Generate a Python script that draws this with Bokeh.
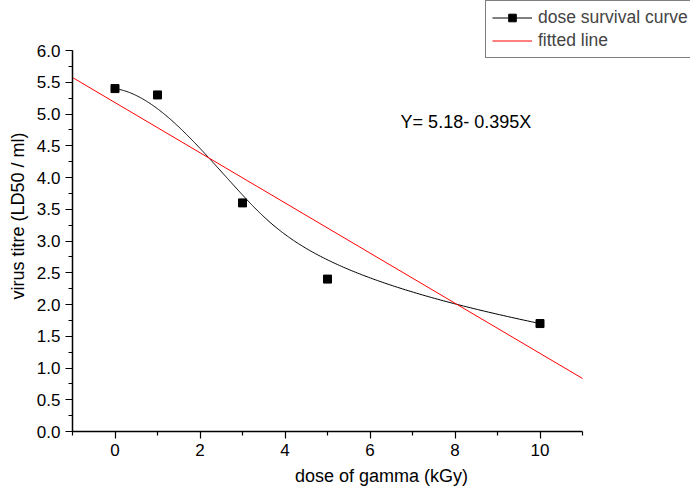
import numpy as np
from bokeh.plotting import figure
from bokeh.models import (FixedTicker, PrintfTickFormatter, Legend, LegendItem,
                          Range1d)
from bokeh.embed import file_html
from bokeh.resources import INLINE
from bokeh.core.properties import value

# ---- data ----
dose = [0, 1, 3, 5, 10]
titre = [5.4, 5.3, 3.6, 2.4, 1.7]
fit_x = [-1, 11]
fit_y = [5.575, 0.835]
equation = "Y= 5.18- 0.395X"
x_major = [0, 2, 4, 6, 8, 10]
x_minor = [-1, 1, 3, 5, 7, 9, 11]
y_major = [0.0, 0.5, 1.0, 1.5, 2.0, 2.5, 3.0, 3.5, 4.0, 4.5, 5.0, 5.5, 6.0]
y_minor = [i * 0.25 for i in range(25)]
x_bounds = (-1, 11)
y_bounds = (0, 6)
x_label = "dose of gamma (kGy)"
y_label = "virus titre (LD50 / ml)"
series_names = ["dose survival curve", "fitted line"]


# clamped cubic B-spline using the data points as control points
def bspline(cx, cy, k=3, n=300):
    cx = np.asarray(cx, float)
    cy = np.asarray(cy, float)
    m = len(cx)
    inner = np.linspace(0, 1, m - k + 1)[1:-1]
    t = np.concatenate([np.zeros(k + 1), inner, np.ones(k + 1)])
    u = np.linspace(0, 1, n)
    u[-1] = 1 - 1e-12

    def N(i, p, u):
        if p == 0:
            return ((t[i] <= u) & (u < t[i + 1])).astype(float)
        a = 0.0
        b = 0.0
        if t[i + p] != t[i]:
            a = (u - t[i]) / (t[i + p] - t[i]) * N(i, p - 1, u)
        if t[i + p + 1] != t[i + 1]:
            b = (t[i + p + 1] - u) / (t[i + p + 1] - t[i + 1]) * N(i + 1, p - 1, u)
        return a + b

    B = np.array([N(i, k, u) for i in range(m)])
    return B.T @ cx, B.T @ cy


sx, sy = bspline(dose, titre)

FONT = "Liberation Sans"

# axes span 510 x 381 px for the bounded range; frame extends to the page edges
FW, FH = 618, 431
px_x = 510 / (x_bounds[1] - x_bounds[0])
px_y = 381 / (y_bounds[1] - y_bounds[0])

p = figure(width=690, height=488, output_backend="svg", toolbar_location=None,
           x_range=Range1d(x_bounds[0], x_bounds[0] + FW / px_x),
           y_range=Range1d(y_bounds[0], y_bounds[0] + FH / px_y),
           min_border_left=72, min_border_right=0, min_border_top=0,
           min_border_bottom=57, frame_width=FW, frame_height=FH)
p.outline_line_color = None
p.grid.visible = False
p.background_fill_color = "white"
p.border_fill_color = "white"

r_curve = p.line(sx, sy, line_color="black", line_width=1)
r_pts = p.scatter(dose, titre, marker="square", size=8, fill_color="black",
                  line_color="black")
r_fit = p.line(fit_x, fit_y, line_color="red", line_width=1)

p.text(x=[6.72], y=[4.88], text=[equation], text_font=value(FONT),
       text_font_size="18px", text_color="black", text_baseline="middle",
       text_align="left")

for ax in (p.xaxis[0], p.yaxis[0]):
    ax.axis_line_width = 1.5
    ax.major_tick_line_width = 1.2
    ax.minor_tick_line_width = 1.2
    ax.major_tick_in = 0
    ax.minor_tick_in = 0
    ax.major_tick_out = 7
    ax.minor_tick_out = 4
    ax.major_label_text_font = FONT
    ax.major_label_text_font_size = "17px"
    ax.major_label_text_color = "black"
    ax.axis_label_text_font = FONT
    ax.axis_label_text_font_size = "18px"
    ax.axis_label_text_font_style = "normal"
    ax.axis_label_text_color = "black"

p.xaxis[0].ticker = FixedTicker(ticks=x_major, minor_ticks=x_minor)
p.yaxis[0].ticker = FixedTicker(ticks=y_major, minor_ticks=y_minor)
p.xaxis[0].bounds = x_bounds
p.yaxis[0].bounds = y_bounds
p.yaxis[0].formatter = PrintfTickFormatter(format="%.1f")
p.xaxis[0].axis_label = x_label
p.yaxis[0].axis_label = y_label
p.xaxis[0].major_label_standoff = 5
p.yaxis[0].major_label_standoff = 5
p.xaxis[0].axis_label_standoff = 7
p.yaxis[0].axis_label_standoff = 6

legend = Legend(items=[LegendItem(label=series_names[0], renderers=[r_curve, r_pts]),
                       LegendItem(label=series_names[1], renderers=[r_fit])],
                location=(413, 373))
legend.border_line_color = "black"
legend.border_line_width = 1
legend.background_fill_alpha = 1
legend.label_text_font = FONT
legend.label_text_font_size = "17.5px"
legend.glyph_width = 40
legend.glyph_height = 19
legend.label_height = 19
legend.label_standoff = 6
legend.spacing = 2
legend.padding = 6
legend.margin = 0
p.add_layout(legend, "center")

open("out.html", "w").write(file_html(p, INLINE))
